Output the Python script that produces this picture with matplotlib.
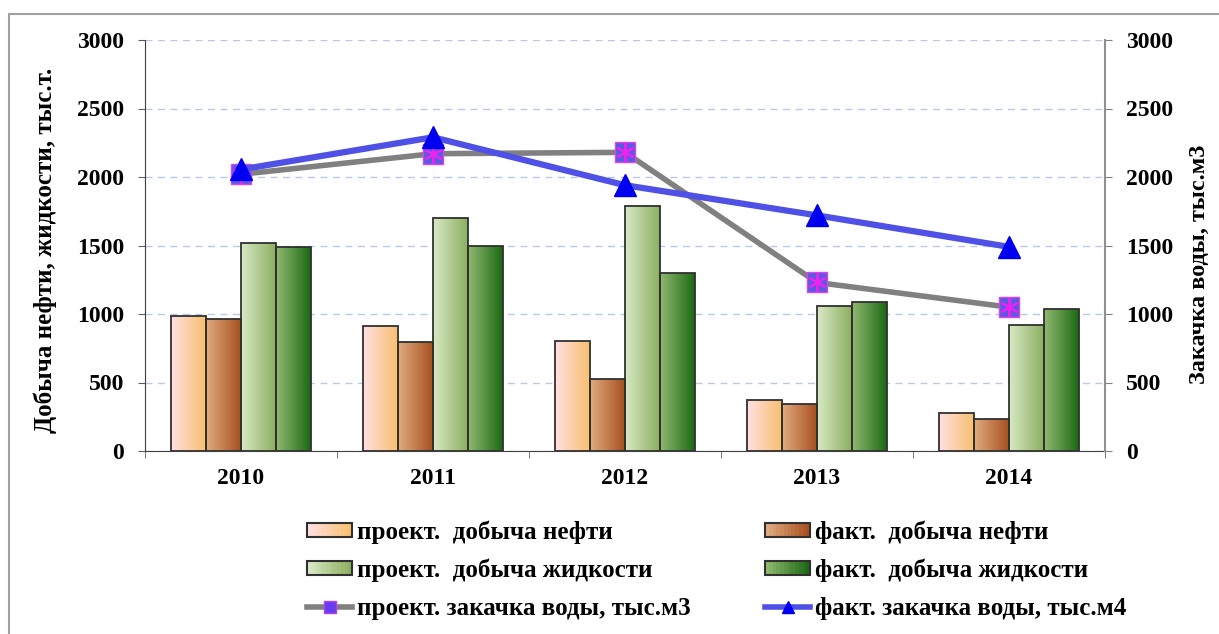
import numpy as np
import matplotlib.pyplot as plt
from matplotlib.colors import LinearSegmentedColormap
from matplotlib.patches import Rectangle
from matplotlib.legend_handler import HandlerBase, HandlerTuple
from matplotlib.lines import Line2D

plt.rcParams['font.family'] = ['Liberation Serif', 'DejaVu Serif']
plt.rcParams['font.weight'] = 'bold'
plt.rcParams['axes.labelweight'] = 'bold'

anos = ["2010", "2011", "2012", "2013", "2014"]
proj_neft = [985, 915, 805, 375, 275]
fakt_neft = [965, 795, 525, 345, 235]
proj_zhid = [1520, 1700, 1785, 1060, 920]
fakt_zhid = [1490, 1495, 1300, 1090, 1035]
proj_zak = [2020, 2170, 2180, 1230, 1050]
fakt_zak = [2055, 2290, 1940, 1720, 1490]

nomes = ["проект.  добыча нефти",
         "факт.  добыча нефти",
         "проект.  добыча жидкости",
         "факт.  добыча жидкости",
         "проект. закачка воды, тыс.м3",
         "факт. закачка воды, тыс.м4"]

# cores do gradiente (esquerda -> direita)
GRAD = [("#ffe0e2", "#f8c070"),
        ("#e0ab80", "#a8501f"),
        ("#d8e8c4", "#8db060"),
        ("#90b870", "#1c6a14")]

fig = plt.figure(figsize=(12.19, 6.34), dpi=100)
ax = fig.add_axes([145 / 1219, 1 - 451 / 634, 960 / 1219, 411 / 634])

# moldura externa
fig.patches.append(Rectangle((9 / 1219, -0.1), 1.2, 1 - 14 / 634 + 0.1,
                             transform=fig.transFigure, fill=False,
                             edgecolor="#a0a0a0", linewidth=1.5))

x = np.arange(len(anos))
larg = 0.182
series = [proj_neft, fakt_neft, proj_zhid, fakt_zhid]
grad = np.linspace(0, 1, 64).reshape(1, -1)
for n, vals in enumerate(series):
    cmap = LinearSegmentedColormap.from_list(f"g{n}", GRAD[n])
    desloc = (n - 1.5) * larg
    bars = ax.bar(x + desloc, vals, width=larg, facecolor="none",
                  edgecolor="#303030", linewidth=1.3, zorder=3)
    for b in bars:
        x0, y0 = b.get_x(), b.get_y()
        im = ax.imshow(grad, extent=[x0, x0 + b.get_width(), y0, y0 + b.get_height()],
                       aspect="auto", cmap=cmap, zorder=2, interpolation="bilinear")
        im.set_clip_path(b)

ax.set_xlim(-0.5, 4.5)
ax.set_ylim(0, 3000)
ax.set_yticks(np.arange(0, 3001, 500))
ax.yaxis.grid(True, color="#b8c8ec", linestyle=(0, (5, 4)), linewidth=1.0)
ax.set_axisbelow(True)
ax.set_xticks(x)
ax.set_xticklabels(anos)
ax.set_xticks(np.arange(-0.5, 4.6, 1), minor=True)
ax.tick_params(axis="x", which="major", length=0, pad=12, labelsize=17)
ax.tick_params(axis="x", which="minor", length=5, direction="out", color="#606060")
ax.tick_params(axis="y", length=5, direction="out", labelsize=17, pad=10, color="#606060")
ax.spines["top"].set_visible(False)
ax.spines["right"].set_visible(False)
ax.spines["left"].set_color("#404040")
ax.spines["bottom"].set_color("#404040")
ax.set_ylabel("Добыча нефти, жидкости, тыс.т.", fontsize=18)
ax.yaxis.set_label_coords(-0.092, 0.489)

ax2 = ax.twinx()
ax2.set_ylim(0, 3000)
ax2.set_yticks(np.arange(0, 3001, 500))
ax2.tick_params(axis="y", length=5, direction="out", labelsize=17, pad=10, color="#808080")
for s in ["top", "left", "bottom"]:
    ax2.spines[s].set_visible(False)
ax2.spines["right"].set_color("#909090")
ax2.spines["right"].set_linewidth(1.5)
ax2.set_ylabel("Закачка воды, тыс.м3", fontsize=17.5)
ax2.yaxis.set_label_coords(1.087, 0.455)

l1, = ax2.plot(x, proj_zak, color="#808080", linewidth=4, zorder=4,
               marker="s", markersize=15, markerfacecolor="#5a5ae0",
               markeredgecolor="#e040f0", markeredgewidth=1)
l1b, = ax2.plot(x, proj_zak, linestyle="none", marker=(6, 2, 0), markersize=13,
                markeredgecolor="#f020f0", markeredgewidth=1.5, zorder=5)
l2, = ax2.plot(x, fakt_zak, color="#4f50e6", linewidth=4.5, zorder=6,
               marker="^", markersize=16, markerfacecolor="#0000f0",
               markeredgecolor="#0000f0")


class HandlerGrad(HandlerBase):
    def __init__(self, cores):
        super().__init__()
        self.cores = cores

    def create_artists(self, legend, orig, xd, yd, w, h, fs, trans):
        cmap = LinearSegmentedColormap.from_list("h", self.cores)
        arts = []
        n = 12
        for i in range(n):
            r = Rectangle((-xd + w * i / n, -yd), w / n, h, facecolor=cmap(i / (n - 1)),
                          edgecolor="none", transform=trans)
            arts.append(r)
        arts.append(Rectangle((-xd, -yd), w, h, facecolor="none",
                              edgecolor="#303030", linewidth=1.5, transform=trans))
        return arts


hb = [Rectangle((0, 0), 1, 1) for _ in range(4)]
leg_l1 = Line2D([], [], color="#808080", linewidth=4)
leg_l1m = Line2D([], [], linestyle="none", marker="s", markersize=8,
                 markerfacecolor="#6a3cf0", markeredgecolor="#b040f0")
leg_l2 = Line2D([], [], color="#4f50e6", linewidth=4, marker="^", markersize=9,
                markerfacecolor="#0000f0", markeredgecolor="#0000f0")
hmap = {hb[i]: HandlerGrad(GRAD[i]) for i in range(4)}
hmap[(leg_l1, leg_l1m)] = HandlerTuple(ndivide=1, pad=0)

kw = dict(handler_map=hmap, loc="upper left", frameon=False, fontsize=18,
          handlelength=1.8, handleheight=0.5, handletextpad=0.2,
          labelspacing=0.6, borderaxespad=0, borderpad=0)
leg1 = fig.legend([hb[0], hb[2], (leg_l1, leg_l1m)], [nomes[0], nomes[2], nomes[4]],
                  bbox_to_anchor=(307 / 1219, 1 - 520 / 634), **kw)
leg2 = fig.legend([hb[1], hb[3], leg_l2], [nomes[1], nomes[3], nomes[5]],
                  bbox_to_anchor=(765 / 1219, 1 - 520 / 634), **kw)

plt.savefig("out.png", dpi=100)
plt.close()
